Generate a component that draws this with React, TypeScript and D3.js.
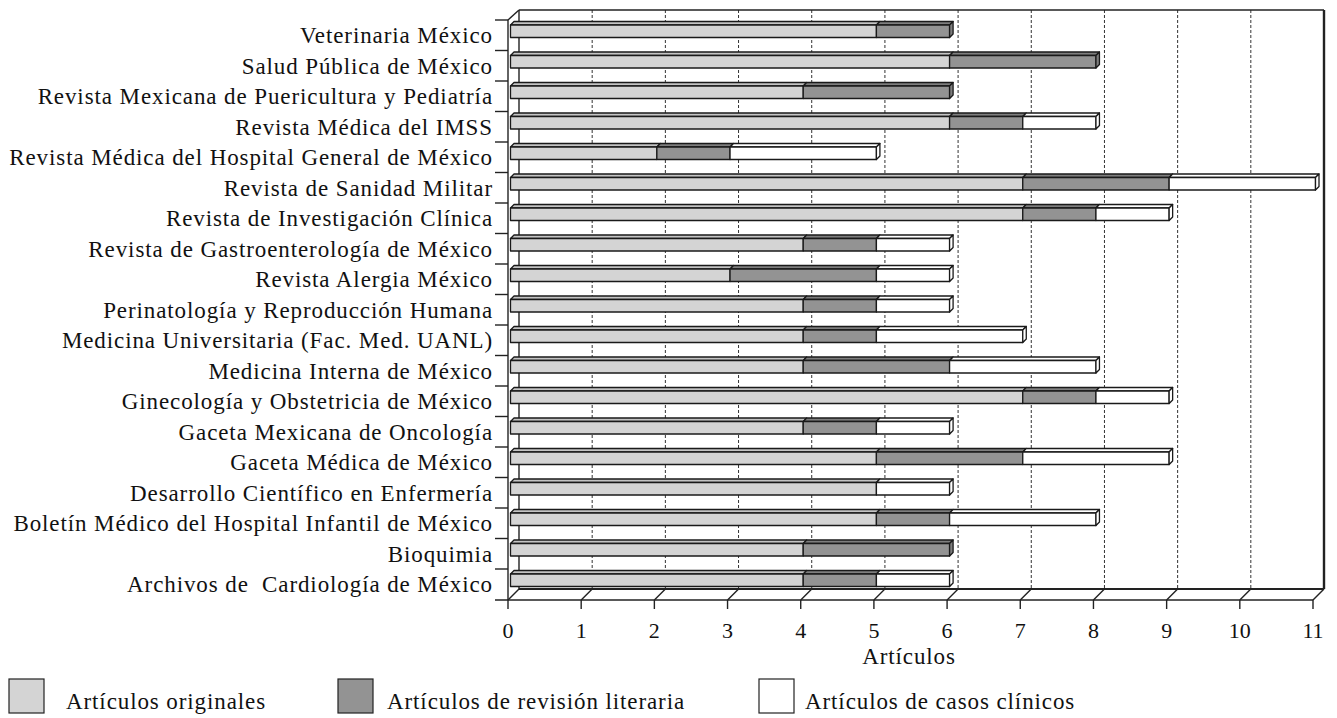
import React from 'react';
import * as d3 from 'd3';

const journals = [
  'Veterinaria México',
  'Salud Pública de México',
  'Revista Mexicana de Puericultura y Pediatría',
  'Revista Médica del IMSS',
  'Revista Médica del Hospital General de México',
  'Revista de Sanidad Militar',
  'Revista de Investigación Clínica',
  'Revista de Gastroenterología de México',
  'Revista Alergia México',
  'Perinatología y Reproducción Humana',
  'Medicina Universitaria (Fac. Med. UANL)',
  'Medicina Interna de México',
  'Ginecología y Obstetricia de México',
  'Gaceta Mexicana de Oncología',
  'Gaceta Médica de México',
  'Desarrollo Científico en Enfermería',
  'Boletín Médico del Hospital Infantil de México',
  'Bioquimia',
  'Archivos de  Cardiología de México',
];

const originales = [5, 6, 4, 6, 2, 7, 7, 4, 3, 4, 4, 4, 7, 4, 5, 5, 5, 4, 4];
const revision = [1, 2, 2, 1, 1, 2, 1, 1, 2, 1, 1, 2, 1, 1, 2, 0, 1, 2, 1];
const casos = [0, 0, 0, 1, 2, 2, 1, 1, 1, 1, 2, 2, 1, 1, 2, 1, 2, 0, 1];

const seriesNames = [
  'Artículos originales',
  'Artículos de revisión literaria',
  'Artículos de casos clínicos',
];
const xTicks = [0, 1, 2, 3, 4, 5, 6, 7, 8, 9, 10, 11];

const front = ['#d4d4d4', '#939393', '#ffffff'];
const topFace = ['#c4c4c4', '#7e7e7e', '#ffffff'];
const FONT = '"Liberation Serif", "DejaVu Serif", serif';

export default function App() {
  const width = 1337;
  const height = 718;
  const floorY = 600;
  const depth = 11; // wall depth
  const wallTop = 10;

  const x = d3.scaleLinear().domain([0, 11]).range([508, 1313]);
  const y = d3.scaleBand<string>().domain(journals).range([20, 599.5]).padding(0);

  const data = journals.map((name, i) => ({ name, values: [originales[i], revision[i], casos[i]] }));
  const stack = d3.stack<any>().keys(['0', '1', '2']).value((d, k) => d.values[+k]);
  const layers = stack(data as any);

  const bd = 3.5; // bar depth
  const bo = 2.5; // bar offset from front plane
  const bh = 12.5;

  const bars: JSX.Element[] = [];
  data.forEach((d, i) => {
    const yf = (y(d.name) as number) + 5;
    layers.forEach((layer, s) => {
      const [a, b] = layer[i];
      if (b - a <= 0) return;
      const x1 = x(a) + bo;
      const x2 = x(b) + bo;
      bars.push(
        <g key={`${i}-${s}`} stroke="#1a1a1a" strokeWidth={1.3} strokeLinejoin="round">
          <polygon points={`${x1},${yf} ${x1 + bd},${yf - bd} ${x2 + bd},${yf - bd} ${x2},${yf}`} fill={topFace[s]} />
          <rect x={x1} y={yf} width={x2 - x1} height={bh} fill={front[s]} />
        </g>
      );
    });
    const end = x(d.values[0] + d.values[1] + d.values[2]) + bo;
    const lastS = d.values[2] > 0 ? 2 : 1;
    bars.push(
      <polygon
        key={`end-${i}`}
        points={`${end},${yf} ${end + bd},${yf - bd} ${end + bd},${yf + bh - bd} ${end},${yf + bh}`}
        fill={topFace[lastS]}
        stroke="#1a1a1a"
        strokeWidth={1.3}
        strokeLinejoin="round"
      />
    );
  });

  const legendX = [9, 338, 759];
  const legendTextX = [66, 387, 805];

  return (
    <svg width={width} height={height} style={{ display: 'block', position: 'absolute', left: 0, top: 0 }}>
      <rect width={width} height={height} fill="#fff" />
      {/* back wall grid */}
      {xTicks.slice(1, -1).map((t) => (
        <line key={`g${t}`} x1={x(t) + depth} x2={x(t) + depth} y1={wallTop} y2={floorY - depth}
          stroke="#333" strokeWidth={1} strokeDasharray="3,2" />
      ))}
      {/* wall outlines */}
      <g stroke="#222" strokeWidth={1.4} fill="none">
        <line x1={x(0) + depth} x2={x(11) + depth} y1={wallTop} y2={wallTop} />
        <line x1={x(0) + depth} x2={x(0) + depth} y1={wallTop} y2={floorY - depth} />
        <line x1={x(0)} x2={x(0) + depth} y1={20} y2={wallTop} />
        <line x1={x(0)} x2={x(0)} y1={20} y2={floorY} />
        <line x1={x(0) + depth} x2={x(11) + depth} y1={floorY - depth} y2={floorY - depth} strokeWidth={2} />
        <line x1={495} x2={x(11)} y1={floorY} y2={floorY} strokeWidth={1.6} />
        <line x1={x(11) + depth} x2={x(11) + depth} y1={wallTop} y2={floorY - depth} strokeWidth={2.4} />
        {xTicks.map((t) => (
          <line key={`f${t}`} x1={x(t)} x2={x(t) + depth} y1={floorY} y2={floorY - depth} />
        ))}
        {xTicks.map((t) => (
          <line key={`t${t}`} x1={x(t)} x2={x(t)} y1={floorY} y2={floorY + 9} />
        ))}
        {journals.map((j) => (
          <line key={`yt${j}`} x1={495} x2={x(0)} y1={y(j) as number} y2={y(j) as number} />
        ))}
      </g>
      {bars}
      {/* category labels */}
      <g fontFamily={FONT} fontSize={23} letterSpacing={0.9} fill="#111" textAnchor="end">
        {journals.map((j) => (
          <text key={j} x={493} y={(y(j) as number) + y.bandwidth() / 2} dy="0.34em" xmlSpace="preserve" style={{ whiteSpace: 'pre' }}>
            {j}
          </text>
        ))}
      </g>
      {/* x tick labels */}
      <g fontFamily={FONT} fontSize={22} fill="#111" textAnchor="middle">
        {xTicks.map((t) => (
          <text key={`xl${t}`} x={x(t)} y={638}>{t}</text>
        ))}
        <text x={909} y={664} fontSize={23} letterSpacing={0.9}>Artículos</text>
      </g>
      {/* legend */}
      <g fontFamily={FONT} fontSize={23} letterSpacing={0.9} fill="#111">
        {seriesNames.map((s, i) => (
          <g key={s}>
            <rect x={legendX[i]} y={679} width={35} height={34} fill={front[i]} stroke="#222" strokeWidth={1.2} />
            <text x={legendTextX[i]} y={709}>{s}</text>
          </g>
        ))}
      </g>
    </svg>
  );
}
